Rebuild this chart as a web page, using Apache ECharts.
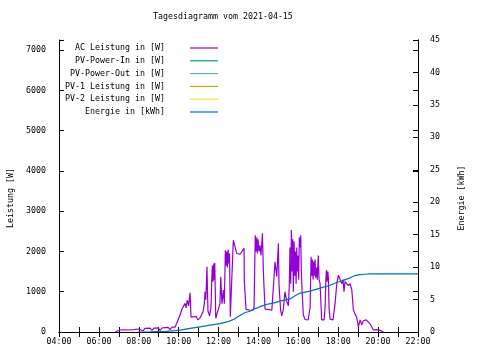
<!DOCTYPE html>
<html><head><meta charset="utf-8">
<script src="https://cdn.jsdelivr.net/npm/echarts@6/dist/echarts.min.js"></script>
<style>html,body{margin:0;padding:0;background:#fff}#c{width:480px;height:360px}</style>
</head><body><div id="c"></div>
<script>
const titleText = 'Tagesdiagramm vom 2021-04-15';
const seriesNames = ['AC Leistung in [W]', 'PV-Power-In in [W]', 'PV-Power-Out in [W]', 'PV-1 Leistung in [W]', 'PV-2 Leistung in [W]', 'Energie in [kWh]'];
const seriesColors = ['#9400D3', '#009E73', '#56B4E9', '#E69F00', '#F0E442', '#0072B2'];
// time in decimal hours
const acTimes = [6.81,6.86,7.06,7.16,7.26,7.46,7.56,7.76,7.86,8.01,8.11,8.21,8.31,8.56,8.66,8.76,8.97,9.07,9.17,9.32,9.47,9.57,9.67,9.82,9.90,9.97,10.07,10.15,10.23,10.32,10.37,10.43,10.50,10.57,10.62,10.72,10.87,10.97,11.07,11.17,11.22,11.29,11.32,11.36,11.39,11.42,11.45,11.47,11.55,11.62,11.66,11.69,11.72,11.76,11.79,11.81,11.86,11.92,12.02,12.07,12.11,12.17,12.24,12.29,12.34,12.38,12.41,12.44,12.48,12.51,12.55,12.59,12.68,12.74,12.83,12.91,13.08,13.28,13.29,13.38,13.58,13.73,13.78,13.84,13.88,13.92,13.95,13.98,14.03,14.08,14.13,14.20,14.25,14.33,14.48,14.58,14.67,14.75,14.83,14.92,15.00,15.03,15.11,15.17,15.25,15.33,15.42,15.50,15.55,15.58,15.62,15.65,15.69,15.72,15.75,15.79,15.82,15.85,15.89,15.92,15.95,15.99,16.02,16.05,16.09,16.12,16.15,16.19,16.25,16.34,16.49,16.59,16.64,16.67,16.70,16.74,16.77,16.80,16.84,16.87,16.92,16.95,17.00,17.04,17.09,17.17,17.29,17.34,17.38,17.41,17.44,17.48,17.51,17.54,17.59,17.74,17.84,17.93,18.01,18.09,18.18,18.24,18.29,18.34,18.43,18.51,18.59,18.68,18.76,18.84,18.93,19.01,19.10,19.18,19.26,19.40,19.50,19.60,19.68,19.76,19.90,20.00,20.10,20.20,20.26];
const acWatts = [0,40,50,20,55,50,70,60,80,75,90,30,90,95,40,95,100,40,100,110,115,60,120,120,215,300,420,545,630,710,600,790,650,975,370,400,390,300,350,360,500,710,1000,800,1200,1620,900,520,400,600,1300,1650,1250,1700,1300,1710,340,450,450,700,1370,700,1040,700,2030,1650,2000,1600,2050,1700,1950,380,400,2280,2250,1950,1930,2075,1250,560,540,545,620,2400,2000,2350,1950,2300,2000,2150,1900,2450,1450,570,560,570,540,1120,1740,1380,2200,1200,545,400,570,1000,760,650,1200,2100,1200,2530,1500,2300,1000,2250,1400,2000,1200,2100,1500,1900,1300,2350,2100,2400,1500,1000,420,310,300,600,1870,1400,1800,1300,1750,1400,1800,1350,1600,1300,1900,1300,1200,300,300,600,1300,1540,1250,1500,1300,600,320,300,700,1210,1410,1380,1200,1300,1000,1250,1220,1150,1200,1050,545,450,360,130,300,180,280,300,250,200,130,50,60,20,40,10,0];
const energyTimes = [7.96,8.56,9.40,9.82,10.07,10.57,11.07,11.57,12.07,12.43,12.73,12.98,13.33,13.58,13.83,14.08,14.42,14.73,15.08,15.58,15.84,16.09,16.34,16.59,17.09,17.59,17.99,18.29,18.59,18.84,19.10,19.35,19.60,22.00];
const energyKWh = [0,0.03,0.1,0.2,0.3,0.55,0.8,1.05,1.3,1.55,1.9,2.4,3.0,3.2,3.6,3.9,4.25,4.45,4.75,5.1,5.6,6.0,6.15,6.3,6.75,7.2,7.7,8.0,8.35,8.7,8.85,8.9,8.95,8.95];
const emptyData = [];

const FONT = 'DejaVu Sans Mono';
const FS = 8.3;
const zip = (a, b) => a.map((v, i) => [v, b[i]]);

const chart = echarts.init(document.getElementById('c'), null, {renderer: 'canvas'});
const lineSeries = seriesNames.map((name, i) => ({
  name: name,
  type: 'line',
  yAxisIndex: i === 5 ? 1 : 0,
  symbol: 'none',
  showSymbol: false,
  color: seriesColors[i],
  lineStyle: {width: 1.2, color: seriesColors[i]},
  data: i === 0 ? zip(acTimes, acWatts) : (i === 5 ? zip(energyTimes, energyKWh) : emptyData),
  z: i === 5 ? 3 : 2
}));

const axisCommon = {
  axisLine: {show: true, lineStyle: {color: '#000', width: 1}},
  axisTick: {show: true, inside: true, length: 5, lineStyle: {color: '#000'}},
  splitLine: {show: false}
};

chart.setOption({
  animation: false,
  backgroundColor: '#fff',
  title: {
    text: titleText, left: 153, top: 13, padding: 0,
    textStyle: {fontFamily: FONT, fontSize: FS, fontWeight: 'normal', color: '#000'}
  },
  legend: {
    orient: 'vertical', left: 63, top: 43, padding: 0,
    align: 'right', icon: 'rect', itemWidth: 28, itemHeight: 1.2, itemGap: 2.8,
    selectedMode: false,
    textStyle: {fontFamily: FONT, fontSize: FS, color: '#000', width: 102, align: 'right', padding: [0, 20, 0, 0], lineHeight: 10},
    data: seriesNames
  },
  grid: {left: 59, right: 62, top: 40, bottom: 28, containLabel: false, outerBoundsMode: 'none'},
  xAxis: [
    Object.assign({}, axisCommon, {
      type: 'value', min: 4, max: 22, interval: 1, position: 'bottom',
      axisLabel: {fontFamily: FONT, fontSize: FS, color: '#000', margin: 6,
        formatter: v => (v % 2 === 0 ? String(v).padStart(2, '0') + ':00' : '')}
    }),
    Object.assign({}, axisCommon, {
      type: 'value', min: 4, max: 22, interval: 1, position: 'top',
      axisLabel: {show: false}
    })
  ],
  yAxis: [
    Object.assign({}, axisCommon, {
      type: 'value', min: 0, max: 7250, interval: 1000, position: 'left',
      name: 'Leistung [W]', nameLocation: 'middle', nameGap: 43, nameRotate: 90,
      nameTextStyle: {fontFamily: FONT, fontSize: FS, color: '#000', padding: [0, 24, 0, 0]},
      axisLabel: {fontFamily: FONT, fontSize: FS, color: '#000', margin: 13,
        formatter: v => (v % 1000 === 0 ? String(v) : '')}
    }),
    Object.assign({}, axisCommon, {
      type: 'value', min: 0, max: 45, interval: 5, position: 'right',
      name: 'Energie [kWh]', nameLocation: 'middle', nameGap: 40, nameRotate: 90,
      nameTextStyle: {fontFamily: FONT, fontSize: FS, color: '#000', padding: [0, 24, 0, 0]},
      axisLabel: {fontFamily: FONT, fontSize: FS, color: '#000', margin: 12}
    }),
    Object.assign({}, axisCommon, {
      type: 'value', min: 0, max: 7250, interval: 1000, position: 'right',
      axisLabel: {show: false}
    })
  ],
  series: lineSeries
});
</script>
</body></html>
